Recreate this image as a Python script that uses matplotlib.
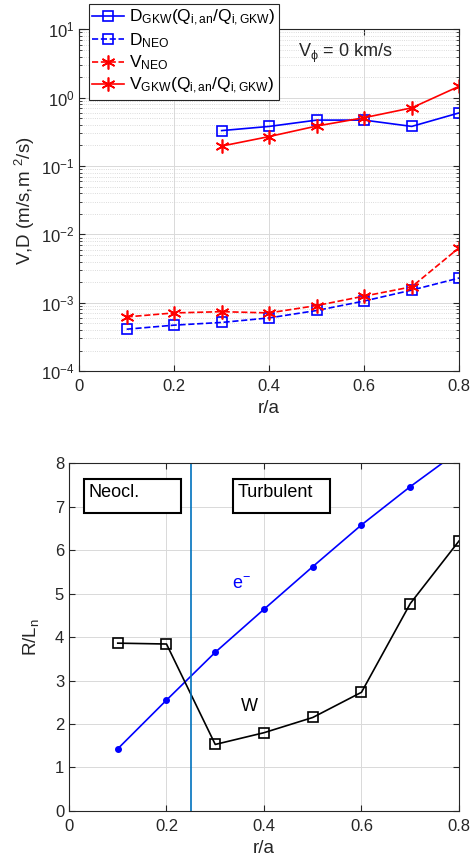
import numpy as np
import matplotlib
matplotlib.use('Agg')
import matplotlib.pyplot as plt
from matplotlib.patches import Rectangle
from matplotlib.ticker import FixedLocator, FuncFormatter, LogLocator, NullFormatter

plt.rcParams['font.family'] = ['Liberation Sans', 'DejaVu Sans']
plt.rcParams['mathtext.fontset'] = 'custom'
plt.rcParams['mathtext.rm'] = 'Liberation Sans'
plt.rcParams['mathtext.it'] = 'Liberation Sans:italic'
plt.rcParams['mathtext.default'] = 'rm'

# top panel data
r_gkw = [0.3, 0.4, 0.5, 0.6, 0.7, 0.8]
d_gkw = [0.33, 0.38, 0.47, 0.47, 0.38, 0.60]
v_gkw = [0.196, 0.27, 0.385, 0.51, 0.71, 1.47]
r_neo = [0.1, 0.2, 0.3, 0.4, 0.5, 0.6, 0.7, 0.8]
d_neo = [4.1e-4, 4.7e-4, 5.15e-4, 6.0e-4, 7.7e-4, 1.06e-3, 1.53e-3, 2.3e-3]
v_neo = [6.2e-4, 7.1e-4, 7.4e-4, 7.1e-4, 9.1e-4, 1.25e-3, 1.71e-3, 6.4e-3]

# bottom panel data
r_prof = [0.1, 0.2, 0.3, 0.4, 0.5, 0.6, 0.7, 0.8]
rln_e = [1.43, 2.55, 3.65, 4.64, 5.62, 6.58, 7.46, 8.28]
rln_w = [3.86, 3.84, 1.53, 1.80, 2.15, 2.73, 4.77, 6.21]
r_split = 0.25

txt = '#262626'
blue = '#0000ff'
red = '#ff0000'
sq = dict(marker='s', markersize=7, markerfacecolor='none', markeredgewidth=1.2)
ast = dict(marker=(6, 2, 0), markersize=10, markeredgewidth=1.2)


def style(ax):
    ax.tick_params(which='both', direction='in', top=True, right=True,
                   colors=txt, labelsize=12)
    ax.tick_params(axis='x', which='major', pad=6)
    ax.tick_params(which='major', length=4)
    ax.tick_params(which='minor', length=2)
    for s in ax.spines.values():
        s.set_color(txt)
        s.set_linewidth(0.8)
    ax.xaxis.set_major_formatter(FuncFormatter(lambda v, p: '0' if v == 0 else '%g' % v))


fig = plt.figure(figsize=(4.71, 8.63), dpi=100)

# ---- top: transport coefficients
ax1 = fig.add_axes([0.168, 0.570, 0.807, 0.396])
l1, = ax1.plot(r_gkw, d_gkw, '-', color=blue, lw=1.2, markeredgecolor=blue, **sq)
l2, = ax1.plot(r_neo, d_neo, '--', color=blue, lw=1.2, markeredgecolor=blue, **sq)
l3, = ax1.plot(r_neo, v_neo, '--', color=red, lw=1.2, markeredgecolor=red, **ast)
l4, = ax1.plot(r_gkw, v_gkw, '-', color=red, lw=1.2, markeredgecolor=red, **ast)
ax1.set_yscale('log')
ax1.set_xlim(0, 0.8)
ax1.set_ylim(1e-4, 1e1)
ax1.xaxis.set_major_locator(FixedLocator([0, 0.2, 0.4, 0.6, 0.8]))
ax1.yaxis.set_major_locator(LogLocator(base=10, numticks=10))
ax1.yaxis.set_minor_locator(LogLocator(base=10, subs=np.arange(2, 10), numticks=10))
ax1.yaxis.set_minor_formatter(NullFormatter())
style(ax1)
ax1.grid(True, which='major', color='#d9d9d9', lw=0.7)
ax1.grid(True, which='minor', axis='y', color='#d0d0d0', lw=0.6, ls=':')
ax1.set_xlabel('r/a', fontsize=13.5, color=txt, labelpad=4)
ax1.set_ylabel('V,D (m/s,m $^2$/s)', fontsize=13.5, color=txt, labelpad=3)
ax1.text(0.46, 4.5, r'V$_{\phi}$ = 0 km/s', fontsize=13, color=txt, va='center')
labels = [r'D$_{\rm GKW}$(Q$_{\rm i,an}$/Q$_{\rm i,GKW}$)', r'D$_{\rm NEO}$',
          r'V$_{\rm NEO}$', r'V$_{\rm GKW}$(Q$_{\rm i,an}$/Q$_{\rm i,GKW}$)']
leg = fig.legend([l1, l2, l3, l4], labels, loc='upper left',
                 bbox_to_anchor=(0.189, 0.995), fontsize=12.5, fancybox=False,
                 framealpha=1, edgecolor=txt, borderaxespad=0, handlelength=1.8,
                 handletextpad=0.3, labelspacing=0.2, borderpad=0.2)
leg.get_frame().set_linewidth(0.8)

# ---- bottom: gradients
ax2 = fig.add_axes([0.1465, 0.0603, 0.828, 0.403])
ax2.plot(r_prof, rln_e, '-', color=blue, lw=1.2, marker='.', markersize=8)
ax2.plot(r_prof, rln_w, '-', color='k', lw=1.2, markeredgecolor='k', **sq)
ax2.axvline(r_split, color='#0072bd', lw=1.2)
ax2.set_xlim(0, 0.8)
ax2.set_ylim(0, 8)
ax2.xaxis.set_major_locator(FixedLocator([0, 0.2, 0.4, 0.6, 0.8]))
ax2.yaxis.set_major_locator(FixedLocator(range(0, 9)))
style(ax2)
ax2.grid(True, color='#d9d9d9', lw=0.7)
ax2.set_xlabel('r/a', fontsize=13.5, color=txt, labelpad=4)
ax2.set_ylabel('R/L$_n$', fontsize=13.5, color=txt, labelpad=10)
ax2.text(0.335, 5.2, 'e$^{-}$', color=blue, fontsize=13, va='center')
ax2.text(0.352, 2.4, 'W', color='k', fontsize=13, va='center')
for x0, s in [(0.030, 'Neocl.'), (0.336, 'Turbulent')]:
    ax2.add_patch(Rectangle((x0, 6.86), 0.2, 0.77, fill=True, facecolor='white',
                            edgecolor='k', lw=1.5, zorder=4))
    ax2.text(x0 + 0.009, 7.33, s, fontsize=13, color='k', va='center', zorder=5)

fig.savefig('out.png', dpi=100)
